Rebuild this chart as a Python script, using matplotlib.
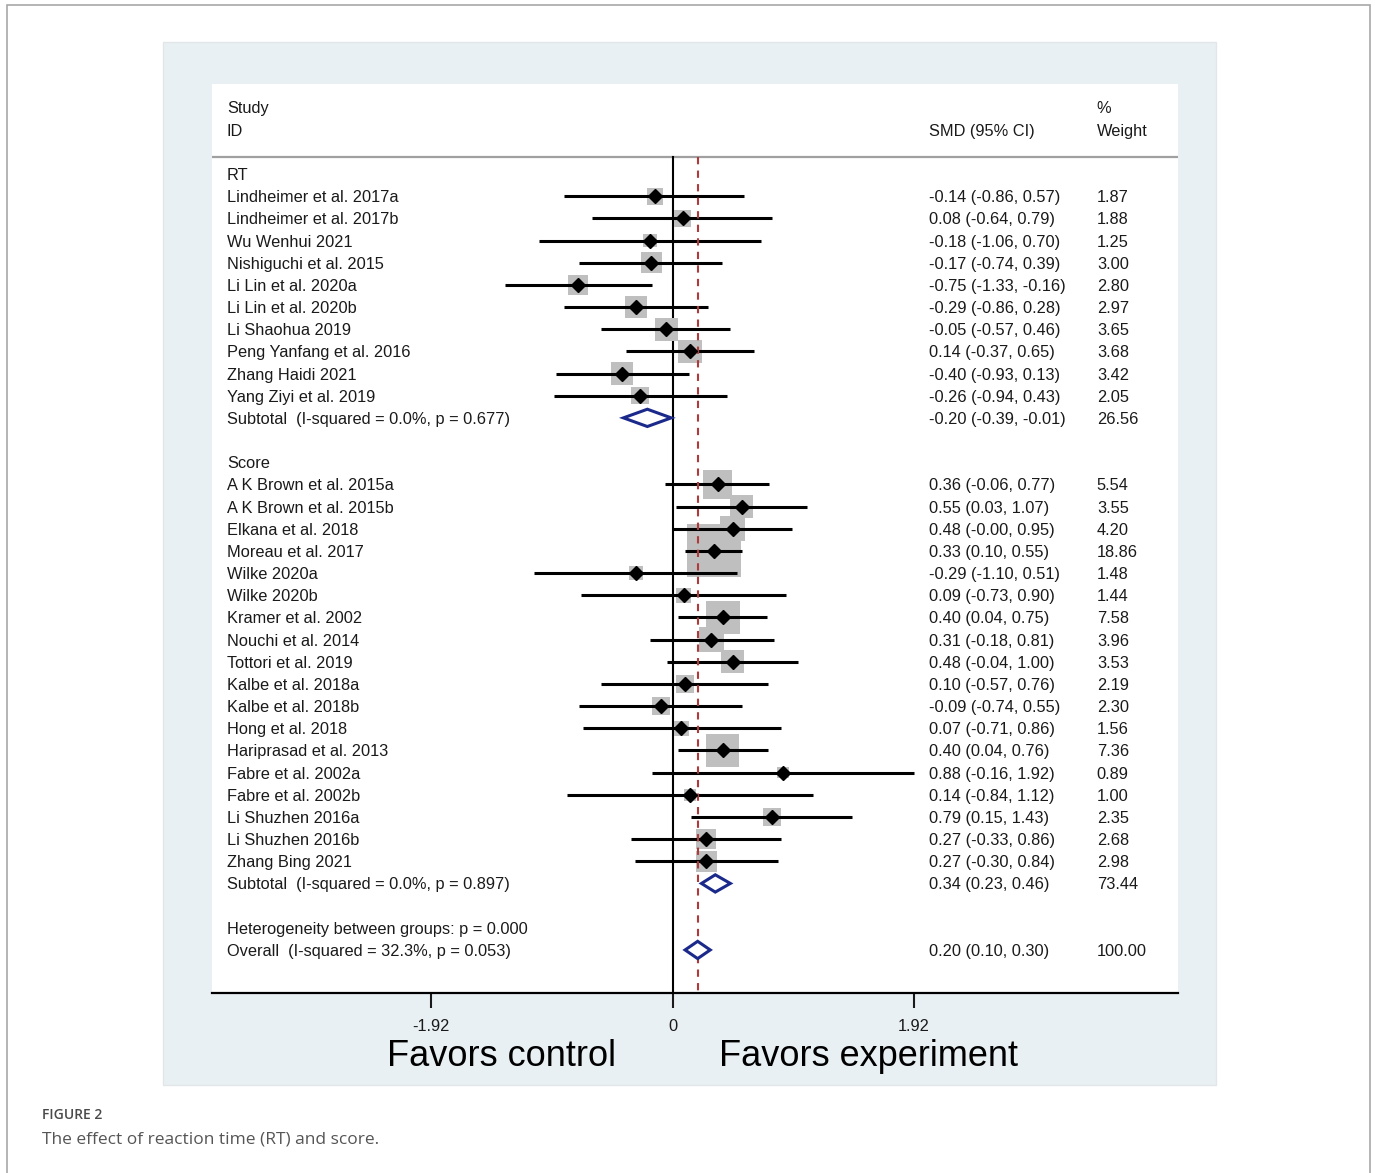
import numpy as np
import matplotlib
matplotlib.use('Agg')
import matplotlib.pyplot as plt
from matplotlib.patches import Rectangle, Polygon

plt.rcParams['font.family'] = ['Liberation Sans', 'DejaVu Sans']

# data
rt_labels = ['Lindheimer et al. 2017a', 'Lindheimer et al. 2017b', 'Wu Wenhui 2021',
             'Nishiguchi et al. 2015', 'Li Lin et al. 2020a', 'Li Lin et al. 2020b',
             'Li Shaohua 2019', 'Peng Yanfang et al. 2016', 'Zhang Haidi 2021',
             'Yang Ziyi et al. 2019']
rt_smd = [-0.14, 0.08, -0.18, -0.17, -0.75, -0.29, -0.05, 0.14, -0.40, -0.26]
rt_lo = [-0.86, -0.64, -1.06, -0.74, -1.33, -0.86, -0.57, -0.37, -0.93, -0.94]
rt_hi = [0.57, 0.79, 0.70, 0.39, -0.16, 0.28, 0.46, 0.65, 0.13, 0.43]
rt_w = [1.87, 1.88, 1.25, 3.00, 2.80, 2.97, 3.65, 3.68, 3.42, 2.05]
rt_sub = (-0.20, -0.39, -0.01, 26.56)
rt_sub_label = 'Subtotal  (I-squared = 0.0%, p = 0.677)'

score_labels = ['A K Brown et al. 2015a', 'A K Brown et al. 2015b', 'Elkana et al. 2018',
                'Moreau et al. 2017', 'Wilke 2020a', 'Wilke 2020b', 'Kramer et al. 2002',
                'Nouchi et al. 2014', 'Tottori et al. 2019', 'Kalbe et al. 2018a',
                'Kalbe et al. 2018b', 'Hong et al. 2018', 'Hariprasad et al. 2013',
                'Fabre et al. 2002a', 'Fabre et al. 2002b', 'Li Shuzhen 2016a',
                'Li Shuzhen 2016b', 'Zhang Bing 2021']
score_smd = [0.36, 0.55, 0.48, 0.33, -0.29, 0.09, 0.40, 0.31, 0.48, 0.10, -0.09,
             0.07, 0.40, 0.88, 0.14, 0.79, 0.27, 0.27]
score_lo = [-0.06, 0.03, -0.00, 0.10, -1.10, -0.73, 0.04, -0.18, -0.04, -0.57,
            -0.74, -0.71, 0.04, -0.16, -0.84, 0.15, -0.33, -0.30]
score_hi = [0.77, 1.07, 0.95, 0.55, 0.51, 0.90, 0.75, 0.81, 1.00, 0.76, 0.55,
            0.86, 0.76, 1.92, 1.12, 1.43, 0.86, 0.84]
score_w = [5.54, 3.55, 4.20, 18.86, 1.48, 1.44, 7.58, 3.96, 3.53, 2.19, 2.30,
           1.56, 7.36, 0.89, 1.00, 2.35, 2.68, 2.98]
score_sub = (0.34, 0.23, 0.46, 73.44)
score_sub_label = 'Subtotal  (I-squared = 0.0%, p = 0.897)'

overall = (0.20, 0.10, 0.30, 100.00)
overall_label = 'Overall  (I-squared = 32.3%, p = 0.053)'
het_label = 'Heterogeneity between groups: p = 0.000'
xticks = [-1.92, 0, 1.92]

W, H = 1375, 1173
fig = plt.figure(figsize=(W / 100, H / 100), dpi=100)
fig.patch.set_facecolor('white')


def fbox(x0, y0, x1, y1, **kw):
    # rectangle in pixel coords (origin top-left)
    fig.add_artist(Rectangle((x0 / W, 1 - y1 / H), (x1 - x0) / W, (y1 - y0) / H,
                             transform=fig.transFigure, **kw))


fbox(7, 5, 1370, 1200, facecolor='white', edgecolor='#a8a8a8', lw=1.2, zorder=-3)
fbox(163, 42, 1216, 1085, facecolor='#e9f0f3', edgecolor='#e2e6e8', lw=1, zorder=-2)

# axes = white plot panel
AX_L, AX_R, AX_T, AX_B = 212, 1178, 84, 993
PX0, PXU = 672.5, 125.8          # pixel of x=0, pixels per unit
ROW0, ROWH = 174, 22.17          # pixel of row 0, pixels per row
ax = fig.add_axes([AX_L / W, 1 - AX_B / H, (AX_R - AX_L) / W, (AX_B - AX_T) / H])
ax.set_facecolor('white')
ax.set_xlim((AX_L - PX0) / PXU, (AX_R - PX0) / PXU)
ax.set_ylim((AX_B - ROW0) / ROWH, (AX_T - ROW0) / ROWH)
for s in ['top', 'left', 'right']:
    ax.spines[s].set_visible(False)
ax.spines['bottom'].set_linewidth(1.6)
ax.set_yticks([])
ax.set_xticks(xticks)
ax.set_xticklabels(['-1.92', '0', '1.92'])
ax.tick_params(axis='x', direction='out', length=11, width=1.5, pad=8,
               labelsize=11.8, colors='#1a1a1a')

txt = '#1a1a1a'
fs = 11.8
VA = 'center_baseline'
yt = ax.get_yaxis_transform()
COL_LAB, COL_SMD, COL_W = 0.0155, 0.7422, 0.916

hdr_row = (157 - ROW0) / ROWH
ax.axhline(hdr_row, color='#a0a0a0', lw=1.6)
ax.text(COL_LAB, -3, 'Study', transform=yt, va=VA, fontsize=fs, color=txt)
ax.text(COL_LAB, -2, 'ID', transform=yt, va=VA, fontsize=fs, color=txt)
ax.text(COL_SMD, -2, 'SMD (95% CI)', transform=yt, va=VA, fontsize=fs, color=txt)
ax.text(COL_W, -3, '%', transform=yt, va=VA, fontsize=fs, color=txt)
ax.text(COL_W, -2, 'Weight', transform=yt, va=VA, fontsize=fs, color=txt)

ybot = ax.get_ylim()[0]
ax.plot([0, 0], [hdr_row, ybot], color='black', lw=1.5, zorder=2)
ax.plot([overall[0], overall[0]], [hdr_row, ybot], color='#b03a3a', lw=1.5,
        ls=(0, (3.5, 3)), zorder=5)

navy = '#1b2a8a'


def studies(labels, smd, lo, hi, w, start):
    rows = np.arange(len(labels)) + start
    ax.scatter(smd, rows, marker='s', s=77.4 * np.array(w), color='#bfbfbf',
               linewidths=0, zorder=3)
    ax.hlines(rows, lo, hi, color='black', lw=2.2, zorder=4)
    ax.plot(smd, rows, 'D', color='black', ms=6.8, zorder=6)
    for r, lab, e, l, h, ww in zip(rows, labels, smd, lo, hi, w):
        ax.text(COL_LAB, r, lab, transform=yt, va=VA, fontsize=fs, color=txt)
        ax.text(COL_SMD, r, f'{e:.2f} ({l:.2f}, {h:.2f})', transform=yt,
                va=VA, fontsize=fs, color=txt)
        ax.text(COL_W, r, f'{ww:.2f}', transform=yt, va=VA, fontsize=fs,
                color=txt)


def pooled(stat, row, label):
    e, l, h, ww = stat
    dh = 0.39
    ax.add_patch(Polygon([(l, row), (e, row - dh), (h, row), (e, row + dh)],
                         closed=True, facecolor='white', edgecolor=navy,
                         lw=2.2, zorder=6))
    ax.text(COL_LAB, row, label, transform=yt, va=VA, fontsize=fs, color=txt)
    ax.text(COL_SMD, row, f'{e:.2f} ({l:.2f}, {h:.2f})', transform=yt,
            va=VA, fontsize=fs, color=txt)
    ax.text(COL_W, row, f'{ww:.2f}', transform=yt, va=VA, fontsize=fs,
            color=txt)


ax.text(COL_LAB, 0, 'RT', transform=yt, va=VA, fontsize=fs, color=txt)
studies(rt_labels, rt_smd, rt_lo, rt_hi, rt_w, 1)
pooled(rt_sub, len(rt_labels) + 1, rt_sub_label)

r_score = len(rt_labels) + 3
ax.text(COL_LAB, r_score, 'Score', transform=yt, va=VA, fontsize=fs, color=txt)
studies(score_labels, score_smd, score_lo, score_hi, score_w, r_score + 1)
r_sub2 = r_score + len(score_labels) + 1
pooled(score_sub, r_sub2, score_sub_label)

ax.text(COL_LAB, r_sub2 + 2, het_label, transform=yt, va=VA, fontsize=fs,
        color=txt)
pooled(overall, r_sub2 + 3, overall_label)

# big direction labels under the axis
fig.text(501 / W, 1 - 1056 / H, 'Favors control', ha='center', va='center',
         fontsize=26, color='black')
fig.text(868 / W, 1 - 1056 / H, 'Favors experiment', ha='center', va='center',
         fontsize=26, color='black')

# caption
fig.text(42 / W, 1 - 1115 / H, 'FIGURE 2', ha='left', va='center', fontsize=10,
         color='#4a4a4a', family=['Open Sans', 'DejaVu Sans'], fontweight='semibold')
fig.text(42 / W, 1 - 1139 / H, 'The effect of reaction time (RT) and score.',
         ha='left', va='center', fontsize=12.5, color='#555555',
         family=['Open Sans', 'DejaVu Sans'])

fig.savefig('out.png', dpi=100)
